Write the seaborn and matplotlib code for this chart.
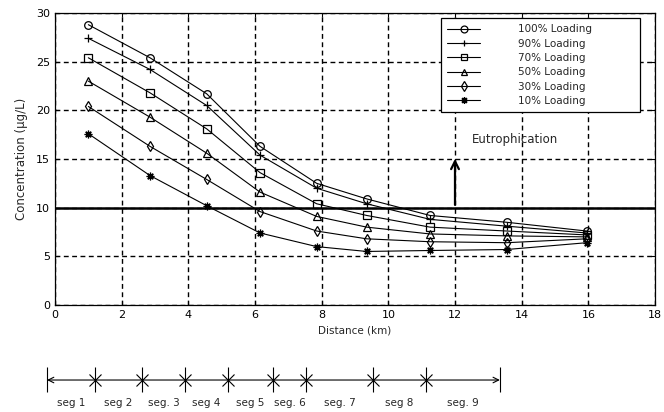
"""Concentration along the river for several loading scenarios"""

import matplotlib

matplotlib.use("Agg")
import matplotlib.pyplot as plt
import numpy as np
import pandas as pd
import seaborn as sns  # type: ignore

distance_km = [1.0, 2.85, 4.55, 6.15, 7.85, 9.35, 11.25, 13.55, 15.95]
load_100 = [28.8, 25.4, 21.7, 16.3, 12.5, 10.9, 9.2, 8.5, 7.6]
load_90 = [27.4, 24.2, 20.5, 15.4, 12.0, 10.4, 8.8, 8.1, 7.4]
load_70 = [25.4, 21.8, 18.1, 13.6, 10.4, 9.2, 8.0, 7.6, 7.2]
load_50 = [23.0, 19.3, 15.6, 11.6, 9.1, 8.0, 7.3, 7.1, 7.0]
load_30 = [20.4, 16.3, 12.9, 9.6, 7.6, 6.8, 6.5, 6.4, 6.8]
load_10 = [17.6, 13.3, 10.2, 7.4, 6.0, 5.5, 5.6, 5.7, 6.4]
series_labels = [
    "100% Loading",
    "90% Loading",
    "70% Loading",
    "50% Loading",
    "30% Loading",
    "10% Loading",
]
threshold = 10
# segment boundaries on the schematic (km) and their names
seg_bounds = [0, 1.84, 3.65, 5.30, 6.96, 8.68, 9.95, 12.52, 14.56, 17.4]
seg_names = ["seg 1", "seg 2", "seg. 3", "seg 4", "seg 5", "seg. 6", "seg. 7", "seg 8", "seg. 9"]

sns.set_style("ticks")
plt.rcParams["font.family"] = ["DejaVu Sans"]

all_series = [load_100, load_90, load_70, load_50, load_30, load_10]
frames = []
for label, vals in zip(series_labels, all_series):
    frames.append(pd.DataFrame({"Distance": distance_km, "Conc": vals, "Load": label}))
df = pd.concat(frames, ignore_index=True)

fig = plt.figure(figsize=(6.64, 4.12), dpi=100)
ax = fig.add_axes([55 / 664, 1 - 305 / 412, 600 / 664, 292 / 412])

sns.lineplot(
    data=df,
    x="Distance",
    y="Conc",
    hue="Load",
    hue_order=series_labels,
    palette=["black"] * 6,
    legend=False,
    ax=ax,
    linewidth=0.8,
)
series_lines = list(ax.lines[:6])
# MATLAB-style open markers, one per scenario
marker_list = ["o", "+", "s", "^", "d", (8, 2, 0)]
for line, mk in zip(series_lines, marker_list):
    line.set_marker(mk)
    line.set_markersize(5.5)
    line.set_markerfacecolor("none")
    line.set_markeredgecolor("black")
    line.set_markeredgewidth(0.9)

ax.axhline(threshold, color="black", linewidth=1.8)
ax.annotate(
    "",
    xy=(12, 15.3),
    xytext=(12, threshold),
    arrowprops=dict(arrowstyle="->", color="black", lw=1.6, mutation_scale=14),
)
ax.text(12.5, 17.0, "Eutrophication", fontsize=8.5, va="center", ha="left")

ax.set_xlim(0, 18)
ax.set_ylim(0, 30)
ax.set_xticks(np.arange(0, 19, 2))
ax.set_yticks(np.arange(0, 31, 5))
ax.grid(True, color="black", linestyle=(0, (3.5, 2.5)), linewidth=1.0)
ax.tick_params(direction="in", labelsize=8, length=3, colors="black",
               top=True, right=True)
for spine in ax.spines.values():
    spine.set_visible(True)
    spine.set_color("black")
    spine.set_linewidth(0.9)
ax.set_xlabel("Distance (km)", fontsize=7.5, labelpad=4)
ax.set_ylabel("Concentration (\u00b5g/L)", fontsize=8.5, labelpad=6)

leg = ax.legend(
    handles=series_lines,
    labels=series_labels,
    loc="upper left",
    bbox_to_anchor=(0.643, 0.5, 0.332, 0.483),
    mode="expand",
    borderaxespad=0,
    fontsize=7.5,
    frameon=True,
    fancybox=False,
    edgecolor="black",
    framealpha=1,
    handlelength=3.2,
    handletextpad=3.6,
    labelspacing=0.42,
    borderpad=0.6,
    numpoints=1,
    markerscale=0.9,
)
leg.get_frame().set_linewidth(0.9)

# segment schematic below the chart
sx = fig.add_axes([40 / 664, 0, 470 / 664, 52 / 412])
sx.set_xlim(-0.27, 17.79)
sx.set_ylim(0, 1)
sx.axis("off")
line_y = 0.615
sx.annotate(
    "",
    xy=(seg_bounds[-1], line_y),
    xytext=(seg_bounds[0], line_y),
    arrowprops=dict(arrowstyle="<->", color="black", lw=0.8, mutation_scale=10, shrinkA=0, shrinkB=0),
)
sx.vlines(seg_bounds, 0.385, 0.865, color="black", linewidth=0.8)
sx.plot(seg_bounds[1:-1], [line_y] * (len(seg_bounds) - 2), linestyle="none",
        marker="x", markersize=9, mew=0.8, color="black")
mids = [(a + b) / 2 for a, b in zip(seg_bounds[:-1], seg_bounds[1:])]
for xm, name in zip(mids, seg_names):
    sx.text(xm, 0.17, name, fontsize=7.5, ha="center", va="center")

plt.savefig("out.png", dpi=100)
plt.close()
